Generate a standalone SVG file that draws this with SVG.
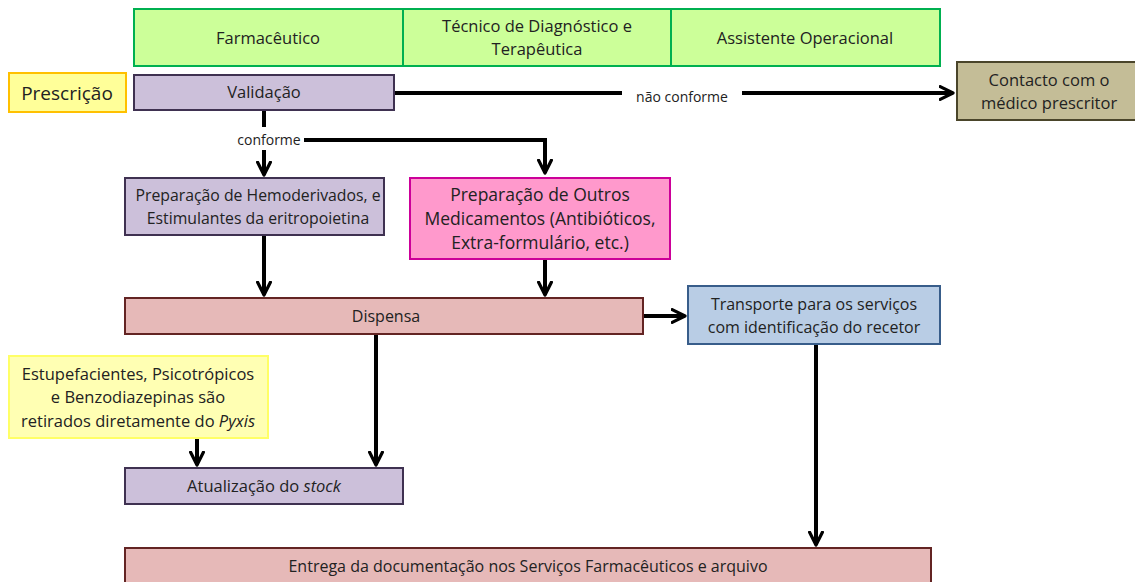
<svg xmlns="http://www.w3.org/2000/svg" width="1135" height="582" viewBox="0 0 1135 582">
<style>
text{font-family:"Open Sans","Liberation Sans",sans-serif;fill:#222;text-anchor:middle;font-size:16.5px}
.hdr{fill:#ccff99;stroke:#00b050;stroke-width:2}
.lil{fill:#ccc0da;stroke:#3f3151;stroke-width:2}
.pink{fill:#e6b9b8;stroke:#632423;stroke-width:2}
.c{fill:none;stroke:#000;stroke-width:4}
.s{font-size:14px}
.m{font-size:16px}
</style>
<defs>
<marker id="a" viewBox="0 0 10 10" refX="9" refY="5" markerWidth="4" markerHeight="4" orient="auto" markerUnits="strokeWidth">
<path d="M1,1 L9,5 L1,9" fill="none" stroke="#000" stroke-width="2" stroke-linecap="round" stroke-linejoin="round"/>
</marker>
</defs>
<g id="headers">
<rect class="hdr" x="134" y="9" width="806" height="57"/>
<line x1="403" y1="9" x2="403" y2="66" stroke="#00b050" stroke-width="2"/>
<line x1="671" y1="9" x2="671" y2="66" stroke="#00b050" stroke-width="2"/>
<text x="268" y="44">Farmacêutico</text>
<text x="537" y="32">Técnico de Diagnóstico e</text>
<text x="537" y="55">Terapêutica</text>
<text x="805" y="44">Assistente Operacional</text>
</g>
<g id="connectors">
<line class="c" x1="394" y1="93" x2="953" y2="93" marker-end="url(#a)"/>
<rect x="622" y="84" width="120" height="24" fill="#fff"/>
<polyline class="c" points="264,110 264,127"/>
<polyline class="c" points="304,140 545,140 545,173" marker-end="url(#a)"/>
<line class="c" x1="264" y1="150" x2="264" y2="175" marker-end="url(#a)"/>
<line class="c" x1="264" y1="235" x2="264" y2="295" marker-end="url(#a)"/>
<line class="c" x1="545" y1="259" x2="545" y2="295" marker-end="url(#a)"/>
<line class="c" x1="643" y1="316" x2="685" y2="316" marker-end="url(#a)"/>
<line class="c" x1="376" y1="334" x2="376" y2="465" marker-end="url(#a)"/>
<line class="c" x1="197" y1="438" x2="197" y2="465" marker-end="url(#a)"/>
<line class="c" x1="816" y1="344" x2="816" y2="545" marker-end="url(#a)"/>
<text class="s" x="682" y="102">não conforme</text>
<text class="s" x="269" y="145">conforme</text>
</g>
<g id="prescricao">
<rect x="9" y="73" width="117" height="39" fill="#ffff99" stroke="#ffc000" stroke-width="2"/>
<text x="67" y="100" style="font-size:19px">Prescrição</text>
</g>
<g id="validacao">
<rect class="lil" x="134" y="75" width="260" height="35"/>
<text x="264" y="98">Validação</text>
</g>
<g id="contacto">
<rect x="957" y="62" width="180" height="58" fill="#c4bd97" stroke="#4a452a" stroke-width="2"/>
<text x="1049" y="86">Contacto com o</text>
<text x="1049" y="109">médico prescritor</text>
</g>
<g id="hemoderivados">
<rect class="lil" x="125" y="178" width="259" height="57"/>
<text x="258" y="201" style="font-size:15.8px">Preparação de Hemoderivados, e</text>
<text x="258" y="224" style="font-size:15.8px">Estimulantes da eritropoietina</text>
</g>
<g id="outros">
<rect x="410" y="178" width="260" height="81" fill="#ff99cc" stroke="#cc0099" stroke-width="2"/>
<text x="540" y="201" style="font-size:17.5px">Preparação de Outros</text>
<text x="540" y="225" style="font-size:17.5px">Medicamentos (Antibióticos,</text>
<text x="540" y="249" style="font-size:17.5px">Extra-formulário, etc.)</text>
</g>
<g id="dispensa">
<rect class="pink" x="125" y="298" width="518" height="36"/>
<text x="386" y="322" class="m">Dispensa</text>
</g>
<g id="transporte">
<rect x="688" y="286" width="252" height="58" fill="#b9cde5" stroke="#385d8a" stroke-width="2"/>
<text x="814" y="310" class="m">Transporte para os serviços</text>
<text x="814" y="333" class="m">com identificação do recetor</text>
</g>
<g id="estupefacientes">
<rect x="9" y="356" width="259" height="82" fill="#ffffb3" stroke="#ffff66" stroke-width="2"/>
<text x="138" y="380">Estupefacientes, Psicotrópicos</text>
<text x="138" y="403">e Benzodiazepinas são</text>
<text x="138" y="427">retirados diretamente do <tspan font-style="italic">Pyxis</tspan></text>
</g>
<g id="atualizacao">
<rect class="lil" x="125" y="468" width="278" height="36"/>
<text x="264" y="492">Atualização do <tspan font-style="italic">stock</tspan></text>
</g>
<g id="entrega">
<rect class="pink" x="125" y="548" width="806" height="40"/>
<text x="528" y="572" class="m">Entrega da documentação nos Serviços Farmacêuticos e arquivo</text>
</g>
</svg>
